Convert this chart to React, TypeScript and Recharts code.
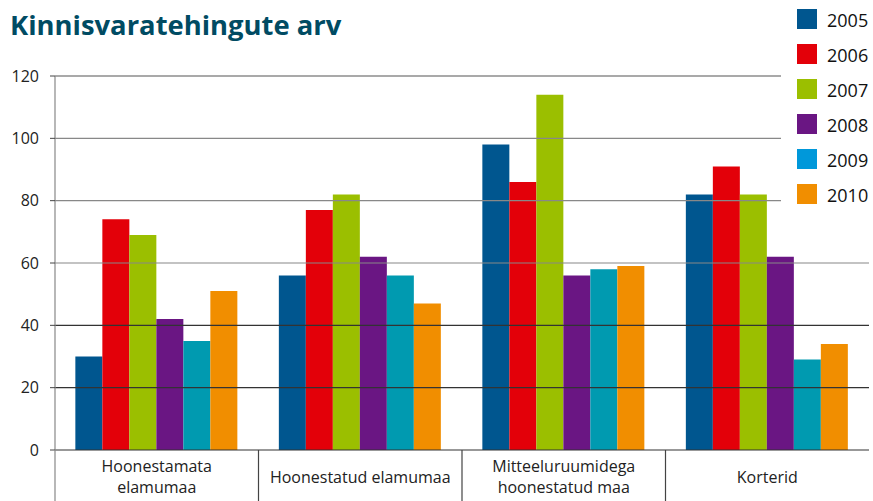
import React from "react";
import { BarChart, Bar, XAxis, YAxis, ReferenceLine, Legend } from "recharts";

const categories = [
  "Hoonestamata\nelamumaa",
  "Hoonestatud elamumaa",
  "Mitteeluruumidega\nhoonestatud maa",
  "Korterid",
];
const years = ["2005", "2006", "2007", "2008", "2009", "2010"];
const v2005 = [30, 56, 98, 82];
const v2006 = [74, 77, 86, 91];
const v2007 = [69, 82, 114, 82];
const v2008 = [42, 62, 56, 62];
const v2009 = [35, 56, 58, 29];
const v2010 = [51, 47, 59, 34];
const yTicks = [0, 20, 40, 60, 80, 100, 120];
const title = "Kinnisvaratehingute arv";

const seriesValues = [v2005, v2006, v2007, v2008, v2009, v2010];
const barColors = ["#00568F", "#E30009", "#9BBF00", "#6A1683", "#009AB0", "#F18E00"];
const legendColors = ["#00568F", "#E30009", "#9BBF00", "#6A1683", "#0098DA", "#F18E00"];
const gridColors: Record<number, string> = {
  20: "#333",
  40: "#333",
  60: "#888",
  80: "#888",
  100: "#888",
  120: "#555",
};

const data = categories.map((name, i) => {
  const row: Record<string, string | number> = { name };
  years.forEach((y, k) => {
    row[y] = seriesValues[k][i];
  });
  return row;
});

const FONT = "'Open Sans', sans-serif";

const CategoryTick = (props: any) => {
  const { x, y, payload } = props;
  const lines = String(payload.value).split("\n");
  const x0 = x - (payload.offset || 0);
  const baselines = lines.length === 1 ? [33] : [22, 43];
  return (
    <g>
      <line x1={x0} y1={y} x2={x0} y2={y + 51} stroke={payload.index === 0 ? "#888" : "#444"} strokeWidth={1.2} />
      <text textAnchor="middle" fontFamily={FONT} fontSize={16} fill="#222">
        {lines.map((l, i) => (
          <tspan key={i} x={x} y={y + baselines[i]}>
            {l}
          </tspan>
        ))}
      </text>
    </g>
  );
};

const LegendContent = () => (
  <div style={{ position: "relative", width: 92, height: 215, background: "#fff" }}>
    {years.map((y, i) => (
      <div key={y} style={{ position: "absolute", left: 0, top: 9 + i * 35, height: 20, width: 92 }}>
        <div
          style={{
            position: "absolute",
            left: 16,
            top: 0,
            width: 20,
            height: 20,
            background: legendColors[i],
          }}
        />
        <span
          style={{
            position: "absolute",
            left: 46,
            top: -1,
            fontFamily: FONT,
            fontSize: 18,
            lineHeight: "24px",
            color: "#111",
          }}
        >
          {y}
        </span>
      </div>
    ))}
  </div>
);

export default function App() {
  return (
    <div style={{ position: "absolute", left: 0, top: 0, width: 873, height: 501, background: "#fff" }}>
      <div
        style={{
          position: "absolute",
          left: 10,
          top: 11,
          fontFamily: FONT,
          fontWeight: 700,
          fontSize: 27.4,
          lineHeight: "27px",
          color: "#004B63",
          whiteSpace: "nowrap",
          zIndex: 2,
        }}
      >
        {title}
      </div>
      <BarChart
        width={873}
        height={501}
        data={data}
        margin={{ top: 76, right: 4, bottom: 0, left: 0 }}
        barCategoryGap="10%"
        barGap={0}
      >
        {yTicks
          .filter((t) => t > 0)
          .map((t) => (
            <ReferenceLine key={t} y={t} stroke={gridColors[t]} strokeWidth={1.2} ifOverflow="extendDomain" />
          ))}
        <XAxis
          dataKey="name"
          interval={0}
          tickLine={false}
          tickSize={0}
          tickMargin={0}
          height={51}
          axisLine={{ stroke: "#333", strokeWidth: 1.2 }}
          tick={<CategoryTick />}
        />
        <YAxis
          width={55}
          domain={[0, 120]}
          ticks={yTicks}
          interval={0}
          tickSize={5}
          tickMargin={11}
          axisLine={{ stroke: "#888", strokeWidth: 1.2 }}
          tickLine={{ stroke: "#444" }}
          tick={{ fontFamily: FONT, fontSize: 16, fill: "#222" }}
        />
        <Legend
          layout="vertical"
          align="center"
          verticalAlign="middle"
          wrapperStyle={{ position: "absolute", left: 781, top: 0, width: 92, height: 215 }}
          content={<LegendContent />}
        />
        {years.map((y, k) => (
          <Bar key={y} dataKey={y} fill={barColors[k]} isAnimationActive={false} />
        ))}
      </BarChart>
    </div>
  );
}
